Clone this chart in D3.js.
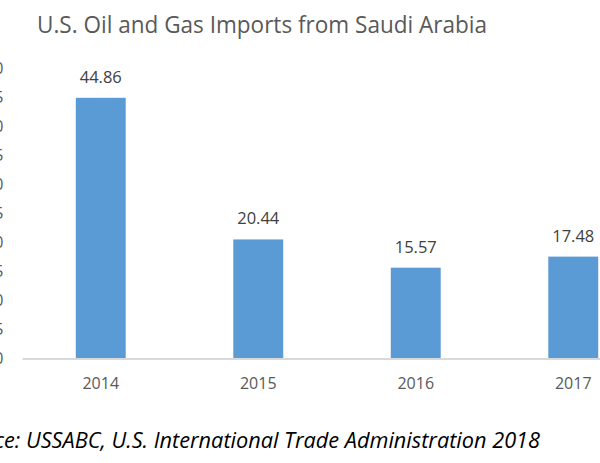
<!DOCTYPE html>
<html>
<head>
<meta charset="utf-8">
<script src="https://cdn.jsdelivr.net/npm/d3@7"></script>
<style>
  html, body { margin: 0; padding: 0; background: #fff; overflow: hidden; }
  svg { display: block; }
</style>
</head>
<body>
<svg id="chart" width="600" height="463"></svg>
<script>
const categories = ["2014", "2015", "2016", "2017"];
const values = [44.86, 20.44, 15.57, 17.48];
const yTicks = [0, 5, 10, 15, 20, 25, 30, 35, 40, 45, 50];
const titleText = "U.S. Oil and Gas Imports from Saudi Arabia";
const sourceText = "Source: USSABC, U.S. International Trade Administration 2018";

const svg = d3.select("#chart");
const font = "'Open Sans', 'DejaVu Sans', sans-serif";

const x = d3.scaleBand().domain(categories).range([22, 652])
  .paddingInner(0.683).paddingOuter(0.3415);
const y = d3.scaleLinear().domain([0, 50]).range([358, 68]);

// title
svg.append("text")
  .attr("x", 262).attr("y", 33)
  .attr("text-anchor", "middle")
  .attr("font-family", font)
  .attr("font-size", 23.5)
  .attr("textLength", 450)
  .attr("lengthAdjust", "spacingAndGlyphs")
  .attr("fill", "#595959")
  .text(titleText);

// y axis tick labels (cut off at left edge)
const yAxis = d3.axisLeft(y).tickValues(yTicks).tickSize(0).tickPadding(0);
const yg = svg.append("g").attr("transform", "translate(3.5,0)").call(yAxis);
yg.select(".domain").remove();
yg.selectAll("text")
  .attr("font-family", font)
  .attr("font-size", 16)
  .attr("fill", "#595959");

// bars
svg.append("g").selectAll("rect")
  .data(categories)
  .join("rect")
  .attr("x", d => x(d))
  .attr("width", x.bandwidth())
  .attr("y", (d, i) => y(values[i]))
  .attr("height", (d, i) => y(0) - y(values[i]))
  .attr("fill", "#5B9BD5");

// x axis
const xAxis = d3.axisBottom(x).tickSize(0).tickPadding(19);
const xg = svg.append("g").attr("transform", `translate(0,${y(0) + 0.5})`).call(xAxis);
xg.select(".domain").attr("stroke", "#D9D9D9").attr("stroke-width", 2);
xg.selectAll("text")
  .attr("font-family", font)
  .attr("font-size", 16)
  .attr("fill", "#595959");

// value labels
svg.append("g").selectAll("text")
  .data(categories)
  .join("text")
  .attr("x", d => x(d) + x.bandwidth() / 2)
  .attr("y", (d, i) => y(values[i]) - 15)
  .attr("text-anchor", "middle")
  .attr("font-family", font)
  .attr("font-size", 16.5)
  .attr("fill", "#404040")
  .text((d, i) => values[i].toFixed(2));

// source
svg.append("text")
  .attr("x", 540).attr("y", 448)
  .attr("text-anchor", "end")
  .attr("font-family", font)
  .attr("font-style", "italic")
  .attr("font-size", 21)
  .attr("textLength", 590)
  .attr("lengthAdjust", "spacingAndGlyphs")
  .attr("fill", "#000")
  .text(sourceText);
</script>
</body>
</html>
